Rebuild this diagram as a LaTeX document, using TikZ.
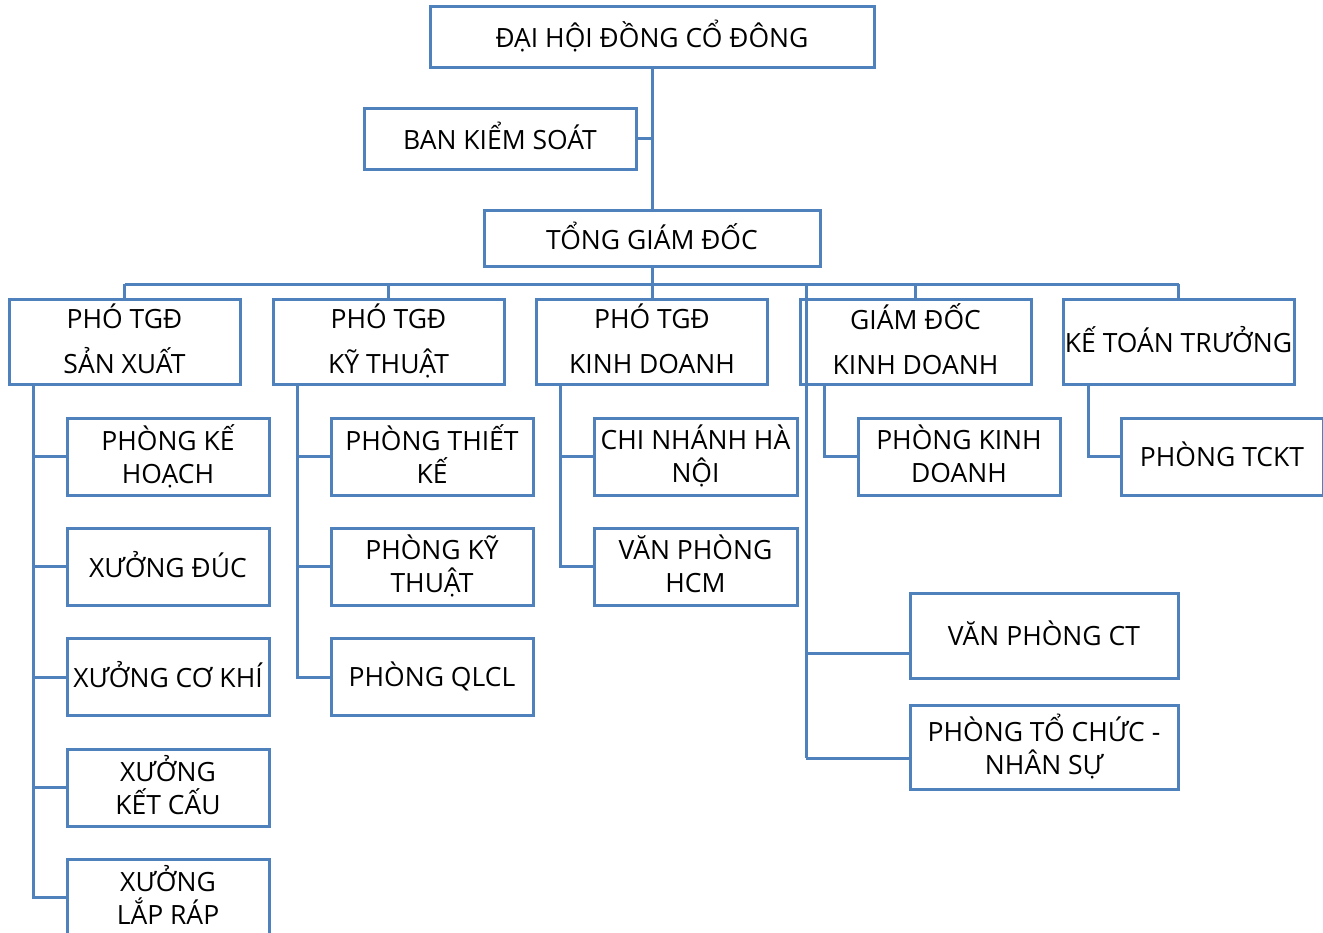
\documentclass[tikz,border=0pt]{standalone}
\usepackage{fontspec}
\setmainfont{Open Sans}
\definecolor{lineblue}{RGB}{79,129,189}
\begin{document}
\begin{tikzpicture}[x=1pt,y=-1pt,
  box/.style={draw=lineblue, line width=3pt, align=center, inner sep=0pt, fill=white,
    text depth=5pt, font=\fontsize{26.5}{33}\selectfont},
  topbox/.style={box, minimum width=231pt, minimum height=85pt, font=\fontsize{26.5}{45}\selectfont},
  subbox/.style={box, minimum width=202pt, minimum height=77pt},
  conn/.style={draw=lineblue, line width=3pt}]
\useasboundingbox (0,0) rectangle (1323,932);
\clip (0,0) rectangle (1323,932);
% connector coordinates
\coordinate (bus) at (652,284);
\coordinate (gbr) at (806,284);
\coordinate (vj) at (806,653);
\coordinate (gend) at (806,758);
\coordinate (sxv) at (33,0);
\coordinate (ktv) at (297,0);
\coordinate (kdv) at (560,0);
\coordinate (gdv) at (824,0);
\coordinate (ktt v) at (1088,0);
% boxes
\node[box, minimum width=444pt, minimum height=61pt] (dhd) at (652,36.5) {ĐẠI HỘI ĐỒNG CỔ ĐÔNG};
\node[box, minimum width=272pt, minimum height=61pt] (bks) at (500,138.5) {BAN KIỂM SOÁT};
\node[box, minimum width=336pt, minimum height=56pt] (tgd) at (652,238) {TỔNG GIÁM ĐỐC};
\node[topbox] (sx) at (124.5,341.5) {PHÓ TGĐ\\SẢN XUẤT};
\node[topbox] (kt) at (388.5,341.5) {PHÓ TGĐ\\KỸ THUẬT};
\node[topbox] (kd) at (652,341.5) {PHÓ TGĐ\\KINH DOANH};
\node[topbox] (gd) at (915.5,341.5) {GIÁM ĐỐC\\KINH DOANH};
\node[topbox] (ktt) at (1178.5,341.5) {KẾ TOÁN TRƯỞNG};
\node[subbox] (s1) at (168,456.5) {PHÒNG KẾ\\HOẠCH};
\node[subbox] (s2) at (168,566.5) {XƯỞNG ĐÚC};
\node[subbox] (s3) at (168,677) {XƯỞNG CƠ KHÍ};
\node[subbox] (s4) at (168,787.5) {XƯỞNG\\KẾT CẤU};
\node[subbox] (s5) at (168,897.5) {XƯỞNG\\LẮP RÁP};
\node[subbox] (k1) at (432,456.5) {PHÒNG THIẾT\\KẾ};
\node[subbox] (k2) at (432,566.5) {PHÒNG KỸ\\THUẬT};
\node[subbox] (k3) at (432,677) {PHÒNG QLCL};
\node[subbox, minimum width=203pt] (d1) at (695.5,456.5) {CHI NHÁNH HÀ\\NỘI};
\node[subbox, minimum width=203pt] (d2) at (695.5,566.5) {VĂN PHÒNG\\HCM};
\node[subbox] (g1) at (959,456.5) {PHÒNG KINH\\DOANH};
\node[subbox] (t1) at (1222,456.5) {PHÒNG TCKT};
\node[box, minimum width=268pt, minimum height=85pt] (vpct) at (1044,635.5) {VĂN PHÒNG CT};
\node[box, minimum width=268pt, minimum height=84pt] (ptc) at (1044,747) {PHÒNG TỔ CHỨC -\\NHÂN SỰ};
% connectors
\draw[conn] (dhd.south) -- (tgd.north);
\draw[conn] (bks.east) -- (bks.east -| dhd.south);
\draw[conn] (tgd.south) -- (bus);
\draw[conn] (sx.north |- bus) -- (ktt.north |- bus);
\foreach \n in {sx,kt,kd,gd,ktt} \draw[conn] (\n.north |- bus) -- (\n.north);
\draw[conn] (gbr) -- (gend);
\draw[conn] (vj) -- (vj -| vpct.west);
\draw[conn] (gend) -- (gend -| ptc.west);
\draw[conn] (sxv |- sx.south) -- (sxv |- s5.west) -- (s5.west);
\foreach \n in {s1,s2,s3,s4} \draw[conn] (sxv |- \n.west) -- (\n.west);
\draw[conn] (ktv |- kt.south) -- (ktv |- k3.west) -- (k3.west);
\foreach \n in {k1,k2} \draw[conn] (ktv |- \n.west) -- (\n.west);
\draw[conn] (kdv |- kd.south) -- (kdv |- d2.west) -- (d2.west);
\draw[conn] (kdv |- d1.west) -- (d1.west);
\draw[conn] (gdv |- gd.south) -- (gdv |- g1.west) -- (g1.west);
\draw[conn] (ktt v |- ktt.south) -- (ktt v |- t1.west) -- (t1.west);
\end{tikzpicture}
\end{document}
